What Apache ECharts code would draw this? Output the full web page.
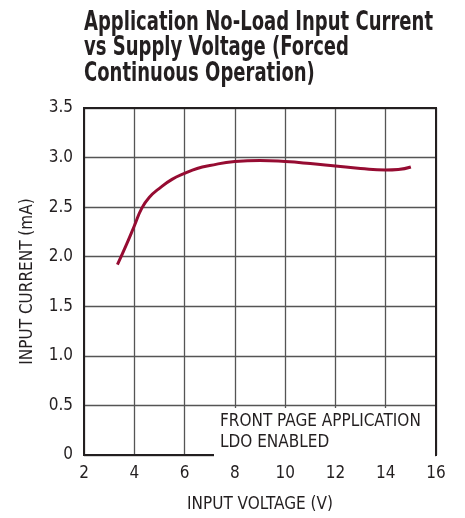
<!DOCTYPE html>
<html>
<head>
<meta charset="utf-8">
<script src="https://cdn.jsdelivr.net/npm/echarts@6/dist/echarts.min.js"></script>
<style>
  html, body { margin: 0; padding: 0; background: #fff; }
  #chart { width: 465px; height: 518px; }
</style>
</head>
<body>
<div id="chart"></div>
<script>
// curve: input voltage (V) vs input current (mA)
const voltage = [3.33, 3.7, 4.0, 4.3, 4.6, 5.0, 5.5, 6.0, 6.5, 7.0, 8.0, 9.0, 10.0, 11.0, 12.0, 13.0, 14.0, 14.5, 15.0];
const current = [1.92, 2.13, 2.31, 2.49, 2.6, 2.69, 2.78, 2.84, 2.89, 2.92, 2.96, 2.97, 2.96, 2.94, 2.915, 2.89, 2.875, 2.88, 2.905];
const titleLines = ['Application No-Load Input Current', 'vs Supply Voltage (Forced', 'Continuous Operation)'];
const noteLines = ['FRONT PAGE APPLICATION', 'LDO ENABLED'];

const font = '"DejaVu Sans Condensed", "Liberation Sans Narrow", sans-serif';
const ink = '#231f20';

// squeeze the title to the narrow width of the original typeface
const titleFont = 'bold 26px ' + font;
const ctx = document.createElement('canvas').getContext('2d');
ctx.font = titleFont;
const titleScale = 349 / ctx.measureText(titleLines[0]).width;

const chart = echarts.init(document.getElementById('chart'));
chart.setOption({
  animation: false,
  title: {
    text: noteLines.join('\n'),
    left: 214,
    top: 408,
    padding: [3, 10, 6, 6],
    backgroundColor: '#fff',
    textStyle: { fontFamily: font, fontWeight: 'normal', fontSize: 17, lineHeight: 21, color: ink, width: 205 }
  },
  graphic: [
    {
      type: 'text',
      x: 84,
      y: 10,
      scaleX: titleScale,
      style: {
        text: titleLines.join('\n'),
        font: titleFont,
        lineHeight: 25.5,
        fill: ink,
        verticalAlign: 'top'
      }
    }
  ],
  grid: { left: 84, right: 29, top: 108, bottom: 59 },
  xAxis: {
    type: 'value',
    min: 2, max: 16, interval: 2,
    name: 'INPUT VOLTAGE (V)',
    nameLocation: 'middle',
    nameGap: 41,
    nameTextStyle: { fontFamily: font, fontSize: 17, color: ink },
    axisLine: { show: false },
    axisTick: { show: false },
    axisLabel: { fontFamily: font, fontSize: 17, color: ink, margin: 10 },
    splitLine: { lineStyle: { color: '#555', width: 1.3 } }
  },
  yAxis: {
    type: 'value',
    min: 0, max: 3.5, interval: 0.5,
    name: 'INPUT CURRENT (mA)',
    nameLocation: 'middle',
    nameGap: 48,
    nameTextStyle: { fontFamily: font, fontSize: 17, color: ink },
    axisLine: { show: false },
    axisTick: { show: false },
    axisLabel: {
      fontFamily: font, fontSize: 17, color: ink, margin: 11,
      formatter: v => (v === 0 ? '0' : v.toFixed(1))
    },
    splitLine: { lineStyle: { color: '#555', width: 1.3 } }
  },
  series: [
    {
      type: 'line',
      data: voltage.map((v, i) => [v, current[i]]),
      smooth: 0.5,
      showSymbol: false,
      lineStyle: { color: '#960c32', width: 3 },
      z: 3
    },
    {
      // plot frame
      type: 'line',
      data: [],
      markArea: {
        silent: true,
        itemStyle: { color: 'transparent', borderColor: ink, borderWidth: 2 },
        data: [[{ coord: [2, 0] }, { coord: [16, 3.5] }]]
      }
    }
  ]
});
</script>
</body>
</html>
